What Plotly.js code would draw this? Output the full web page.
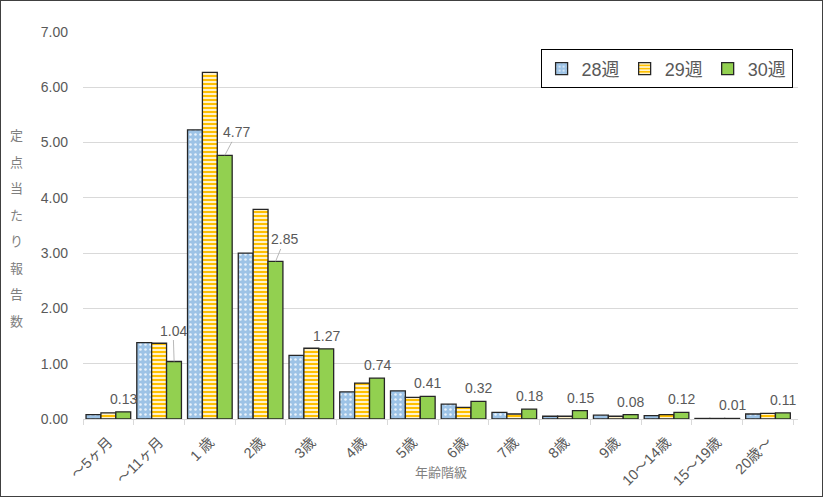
<!DOCTYPE html>
<html>
<head>
<meta charset="utf-8">
<script src="https://cdn.plot.ly/plotly-3.1.0.min.js"></script>
<style>
  body { margin: 0; background: #fff; }
  #frame { width: 823px; height: 497px; box-sizing: border-box; border: 1.5px solid #404040; overflow: hidden; }
</style>
</head>
<body>
<div id="frame"><div id="chart"></div></div>
<script>
// age groups
const categories = ["～5ヶ月", "～11ヶ月", "1 歳", "2歳", "3歳", "4歳", "5歳", "6歳",
                    "7歳", "8歳", "9歳", "10～14歳", "15～19歳", "20歳～"];
const week28 = [0.08, 1.38, 5.23, 3.00, 1.15, 0.49, 0.51, 0.27, 0.12, 0.05, 0.07, 0.06, 0.01, 0.09];
const week29 = [0.11, 1.37, 6.27, 3.79, 1.28, 0.65, 0.39, 0.21, 0.09, 0.05, 0.05, 0.08, 0.01, 0.10];
const week30 = [0.13, 1.04, 4.77, 2.85, 1.27, 0.74, 0.41, 0.32, 0.18, 0.15, 0.08, 0.12, 0.01, 0.11];
const yTicks = [0, 1, 2, 3, 4, 5, 6, 7];
const yTitle = "定点当たり報告数";
const xTitle = "年齢階級";

const font = "Liberation Sans, Arial, Noto Sans CJK JP, sans-serif";
const cjk = "Noto Sans CJK JP, sans-serif";
const grey = "#595959";
const outline = { color: "#262626", width: 1.3 };

const traces = [
  {
    type: "bar", name: "28週", x: categories, y: week28,
    marker: { color: "#9dc3e6", line: outline,
              pattern: { shape: ".", bgcolor: "#9dc3e6", fgcolor: "#ffffff", fgopacity: 0.8,
                         size: 5, solidity: 0.2 } }
  },
  {
    type: "bar", name: "29週", x: categories, y: week29,
    marker: { color: "#ffc000", line: outline,
              pattern: { shape: "-", bgcolor: "#ffc000", fgcolor: "#ffffff", fgopacity: 1,
                         size: 4, solidity: 0.4 } }
  },
  {
    type: "bar", name: "30週", x: categories, y: week30,
    marker: { color: "#92d050", line: outline }
  }
];

// data labels on the 30週 bars; a few sit off to the side with a leader line
const leaders = { 1: [-1, -31], 2: [12, -23], 3: [9, -22] };
const annotations = week30.map((v, i) => {
  const a = {
    x: categories[i], y: v, xref: "x", yref: "y", xshift: 15,
    text: v.toFixed(2), font: { family: font, size: 14, color: grey }
  };
  if (leaders[i]) {
    Object.assign(a, { showarrow: true, arrowhead: 0, arrowwidth: 0.8, arrowcolor: "#a6a6a6",
                       ax: leaders[i][0], ay: leaders[i][1] });
  } else {
    Object.assign(a, { showarrow: false, yanchor: "bottom", yshift: 3 });
  }
  return a;
});

// vertical y-axis title, one character per line
[...yTitle].forEach((ch, i) => {
  annotations.push({
    x: -0.093, y: 0.735 - i * 0.0686, xref: "paper", yref: "paper",
    xanchor: "center", yanchor: "middle",
    text: ch, showarrow: false, font: { family: cjk, size: 13, color: "#7f7f7f" }
  });
});

// x-axis title sits among the rotated tick labels
annotations.push({
  x: 0.5, y: -0.135, xref: "paper", yref: "paper", xanchor: "center", yanchor: "middle",
  text: xTitle, showarrow: false, font: { family: cjk, size: 13, color: "#7f7f7f" }
});

const layout = {
  width: 820, height: 494,
  margin: { l: 82, r: 23, t: 31, b: 76 },
  paper_bgcolor: "#ffffff", plot_bgcolor: "#ffffff",
  font: { family: font, color: grey },
  barmode: "group", bargap: 0.12, bargroupgap: 0,
  xaxis: {
    type: "category", tickangle: -45,
    tickfont: { family: font, size: 14.5, color: grey },
    showline: true, linecolor: "#d9d9d9", linewidth: 1,
    ticks: "outside", tickson: "boundaries", ticklen: 5, tickcolor: "#d9d9d9",
    ticklabelstandoff: 8
  },
  yaxis: {
    range: [0, 7], tickvals: yTicks, tickformat: ".2f",
    tickfont: { size: 14, color: grey },
    gridcolor: "#d9d9d9", gridwidth: 1, zeroline: false, showline: false,
    ticklabelstandoff: 14
  },
  legend: {
    orientation: "h", x: 0.64, y: 0.955, xanchor: "left", yanchor: "top",
    bordercolor: "#000000", borderwidth: 1, bgcolor: "#ffffff",
    font: { size: 18, color: grey }, itemwidth: 30
  },
  annotations: annotations,
  showlegend: true
};

Plotly.newPlot("chart", traces, layout, { displayModeBar: false, staticPlot: true });
</script>
</body>
</html>
